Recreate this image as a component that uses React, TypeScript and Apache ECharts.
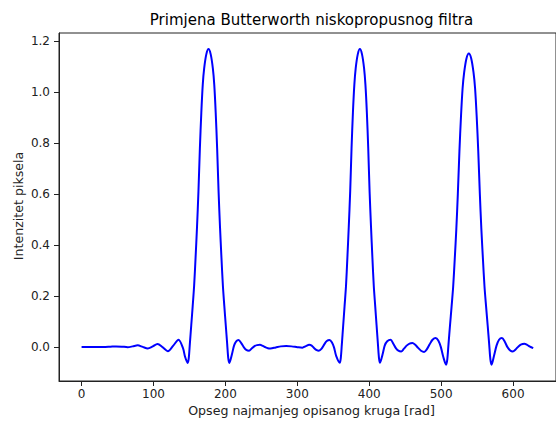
import React, { useEffect, useRef } from "react";
import * as echarts from "echarts";

// Sample positions along the x axis [rad]
const xValues: number[] = [
  0, 15, 30, 40, 48, 56, 64, 71, 78, 85, 92, 99, 105.5, 113, 120, 127.5, 134.8, 141, 144,
  147.5, 149, 150.5, 152.5, 154.5, 156.5, 158.5, 160.5, 162.5, 164.5, 166.5, 168.5, 170.5, 173.5,
  176.5, 179.5, 182.5, 184.5, 186.5, 188.5, 190.5, 192.5, 194.5, 196.5, 198.5, 200.5, 202.5, 204,
  205.5, 209, 212, 215, 218.3, 222, 225.5, 229, 232.9, 236.5, 240.5, 244, 248, 252, 255.5, 259,
  262.6, 270, 277, 284.5, 292, 300, 307, 312, 316.4, 320, 323.5, 327, 330, 333.5, 337.5, 341,
  344.8, 348, 351, 354,
  359, 360.4, 361.9, 363.8, 365.7, 367.7, 369.6, 371.5, 373.5, 375.4, 377.3, 379.3, 381.2, 384.1,
  387, 389.9, 392.8, 394.7, 396.7, 398.6, 400.5, 402.5, 404.4, 406.3, 408.3, 410.2, 412.1, 413.6,
  415, 418.5, 421.5, 425, 429.7, 433.5, 437, 440.5, 444.4, 448, 452, 456, 460, 464, 468, 472,
  476.3, 480, 484, 488, 492.3, 496, 499.5, 503,
  506.9, 508.5, 510.2, 512.3, 514.5, 516.7, 518.9, 521.1, 523.2, 525.4, 527.6, 529.8, 532, 535.2,
  538.5, 541.8, 545, 547.2, 549.4, 551.6, 553.8, 555.9, 558.1, 560.3, 562.5, 564.7, 566.8, 568.5,
  570.1, 573.5, 577, 580.5, 584.5, 588.5, 592, 596, 599.6, 603.5, 607.5, 611.5, 615.6, 619.5,
  623.5, 628,
];

// Pixel intensity read at each sample position
const yValues: number[] = [
  0, 0, 0, 0.001, 0.002, 0.001, -0.001, 0.002, 0.006, 0, -0.006, 0.002, 0.011, -0.002, -0.017, 0.005, 0.028, -0.005, -0.04,
  -0.063, -0.045, 0.01, 0.085, 0.16, 0.24, 0.35, 0.47, 0.61, 0.78, 0.92, 1.03, 1.095, 1.15,
  1.17, 1.15, 1.095, 1.03, 0.92, 0.78, 0.61, 0.47, 0.35, 0.24, 0.16, 0.085, 0.01, -0.045,
  -0.063, -0.03, 0.005, 0.022, 0.027, 0.015, -0.001, -0.012, -0.015, -0.006, 0.003, 0.007, 0.008, 0.004, -0.001, -0.005,
  -0.006, -0.002, 0.002, 0.003, 0.002, -0.001, -0.003, 0.003, 0.008, 0.005, -0.005, -0.013, -0.015, -0.008, 0.01, 0.023,
  0.027, 0.018, -0.002, -0.035,
  -0.062, -0.045, 0.01, 0.085, 0.16, 0.24, 0.35, 0.47, 0.61, 0.78, 0.92, 1.03, 1.095, 1.15,
  1.17, 1.15, 1.095, 1.03, 0.92, 0.78, 0.61, 0.47, 0.35, 0.24, 0.16, 0.085, 0.01, -0.045,
  -0.062, -0.03, 0.005, 0.022, 0.028, 0.012, -0.005, -0.015, -0.018, -0.008, 0.005, 0.013, 0.015, 0.008, -0.004, -0.015,
  -0.02, -0.01, 0.01, 0.028, 0.035, 0.025, 0, -0.04,
  -0.07, -0.05, 0.01, 0.084, 0.158, 0.236, 0.345, 0.463, 0.601, 0.768, 0.906, 1.015, 1.078, 1.133,
  1.152, 1.133, 1.078, 1.015, 0.906, 0.768, 0.601, 0.463, 0.345, 0.236, 0.158, 0.084, 0.01, -0.05,
  -0.07, -0.035, 0.005, 0.028, 0.035, 0.02, 0, -0.014, -0.018, -0.01, 0.002, 0.01, 0.012, 0.008,
  0.001, -0.005,
];

const xTicks: number[] = [0, 100, 200, 300, 400, 500, 600];
const yTicks: number[] = [0, 0.2, 0.4, 0.6, 0.8, 1.0, 1.2];

const titleText = "Primjena Butterworth niskopropusnog filtra";
const xLabelText = "Opseg najmanjeg opisanog kruga [rad]";
const yLabelText = "Intenzitet piksela";

const FONT = "DejaVu Sans";

export default function App() {
  const ref = useRef<HTMLDivElement>(null);

  useEffect(() => {
    if (!ref.current) return;
    const chart = echarts.init(ref.current, null, { renderer: "svg" });
    const data = xValues.map((x, i) => [x, yValues[i]]);
    chart.setOption({
      animation: false,
      backgroundColor: "#ffffff",
      grid: {
        left: 59,
        top: 33,
        width: 505,
        height: 348,
        show: true,
        borderColor: "#222",
        borderWidth: 1,
        backgroundColor: "transparent",
      },
      xAxis: {
        type: "value",
        min: -31.4,
        max: 659.7,
        axisLine: { show: true, onZero: false, lineStyle: { color: "#222", width: 1 } },
        axisTick: { show: true, customValues: xTicks, length: 5, lineStyle: { color: "#222" } },
        axisLabel: {
          customValues: xTicks,
          color: "#222",
          fontSize: 12,
          fontFamily: FONT,
          margin: 7,
          formatter: (v: number) => String(Math.round(v)),
        },
        splitLine: { show: false },
      },
      yAxis: {
        type: "value",
        min: -0.134,
        max: 1.233,
        axisLine: { show: true, onZero: false, lineStyle: { color: "#222", width: 1 } },
        axisTick: { show: true, customValues: yTicks, length: 5, lineStyle: { color: "#222" } },
        axisLabel: {
          customValues: yTicks,
          color: "#222",
          fontSize: 12,
          fontFamily: FONT,
          margin: 9,
          formatter: (v: number) => v.toFixed(1),
        },
        splitLine: { show: false },
      },
      series: [
        {
          type: "line",
          data,
          showSymbol: false,
          smooth: 0.3,
          lineStyle: { color: "#0000ff", width: 2 },
          itemStyle: { color: "#0000ff" },
        },
      ],
      graphic: [
        {
          type: "text",
          x: 311.5,
          y: 19.5,
          style: {
            text: titleText,
            fill: "#000",
            fontSize: 15,
            fontFamily: FONT,
            align: "center",
            verticalAlign: "middle",
          },
        },
        {
          type: "text",
          x: 311.5,
          y: 410.5,
          style: {
            text: xLabelText,
            fill: "#222",
            fontSize: 12.6,
            fontFamily: FONT,
            align: "center",
            verticalAlign: "middle",
          },
        },
        {
          type: "text",
          x: 18,
          y: 206,
          rotation: Math.PI / 2,
          style: {
            text: yLabelText,
            fill: "#222",
            fontSize: 12.6,
            fontFamily: FONT,
            align: "center",
            verticalAlign: "middle",
          },
        },
      ],
    });
    return () => chart.dispose();
  }, []);

  return (
    <div
      ref={ref}
      style={{ position: "fixed", left: 0, top: 0, width: 556, height: 421 }}
    />
  );
}
